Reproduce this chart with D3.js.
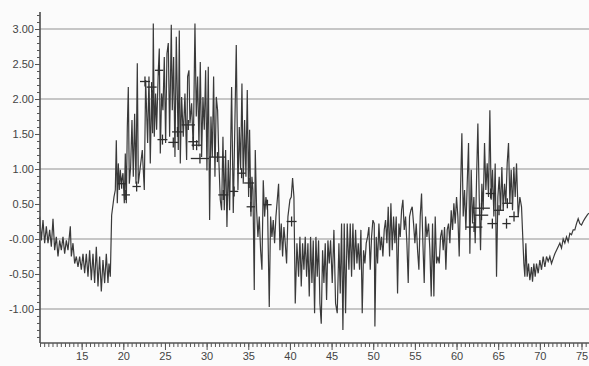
<!DOCTYPE html>
<html>
<head>
<meta charset="utf-8">
<script src="https://cdn.jsdelivr.net/npm/d3@7"></script>
<style>
  html, body { margin: 0; padding: 0; background: #fbfbfb; }
  svg { display: block; }
  text { font-family: "Liberation Sans", Arial, sans-serif; }
</style>
</head>
<body>
<svg id="chart" width="589" height="366"></svg>
<script>
// ---- data (t, value) ----
const segBaseline = [
  [9.96,0.32],[10.16,-0.02],[10.36,0.27],[10.56,-0.06],[10.76,0.18],[10.96,-0.06],[11.16,0.13],[11.36,-0.11],
  [11.56,0.29],[11.76,-0.16],[11.96,0.03],[12.16,-0.25],[12.36,-0.02],[12.56,-0.16],[12.76,0.03],[12.96,-0.21],
  [13.16,-0.02],[13.36,-0.16],[13.64,0.18],[13.76,-0.25],[13.96,-0.06],[14.16,-0.35],[14.36,-0.25],[14.56,-0.40],
  [14.76,-0.25],[14.96,-0.44],[15.16,-0.21],[15.36,-0.49],[15.56,-0.21],[15.76,-0.54],[15.96,-0.16],[16.16,-0.59],
  [16.36,-0.21],[16.56,-0.63],[16.76,-0.11],[16.96,-0.68],[17.16,-0.25],[17.36,-0.75],[17.56,-0.30],[17.76,-0.63],
  [17.96,-0.21],[18.16,-0.63],[18.28,-0.35],[18.44,-0.54]
];
const segRise = [
  [18.6,0.34],[18.88,0.60],[19.04,0.70],[19.16,1.41],[19.28,0.51],[19.4,1.08],[19.52,0.70],[19.64,0.99],
  [19.76,0.79],[19.96,0.94],[20.12,0.51],[20.24,1.22],[20.36,0.51],[20.48,1.60],[20.6,2.17],[20.72,0.79],
  [20.88,1.03],[21.04,1.70],[21.2,0.89],[21.36,1.79],[21.52,0.79],[21.68,2.51]
];
const segPeak = [
  [21.8,0.79],[22.28,1.27],[22.52,0.70],[22.68,2.27],[22.92,1.37],[23.08,2.32],[23.24,1.08],[23.4,2.13],
  [23.52,1.51],[23.6,3.08],[23.72,1.46],[23.88,2.08],[24.0,1.56],[24.2,2.41],[24.32,2.72],[24.44,1.22],
  [24.6,2.08],[24.76,1.84],[24.92,2.60],[25.08,1.37],[25.24,2.65],[25.4,2.80],[25.56,1.46],[25.76,3.06],
  [25.88,1.84],[26.04,2.60],[26.2,1.17],[26.36,2.89],[26.6,1.27],[26.72,2.98],[26.84,1.08],[27.0,2.03],
  [27.2,1.46],[27.4,2.08],[27.6,1.13],[27.72,2.32],[27.88,2.41],[28.0,1.65],[28.2,1.94],[28.4,1.27],
  [28.6,3.08],[28.76,1.75],[28.92,2.32],[29.08,1.32],[29.24,2.53],[29.4,1.17],[29.56,2.03],[29.72,1.56],
  [29.88,2.41],[30.04,0.98],[30.2,2.46],[30.36,0.27],[30.52,1.75],[30.68,1.17],[30.84,2.32],[31.0,0.89],
  [31.16,2.03],[31.32,1.84],[31.48,1.08],[31.64,0.56],[31.8,0.41],[31.96,1.46],[32.12,0.41],[32.28,1.27],
  [32.44,0.17],[32.6,1.13],[32.76,0.41],[33.0,2.17],[33.2,0.37]
];
const segDecline = [
  [33.56,2.77],[33.76,0.70],[33.92,1.60],[34.08,0.99],[34.24,2.22],[34.4,0.79],[34.56,1.70],[34.72,0.89],
  [34.88,2.13],[35.04,0.60],[35.16,1.56],[35.32,0.32],[35.44,0.89],[35.56,0.70],[35.72,-0.73],[35.84,1.27],
  [36.0,0.41],[36.16,0.03],[36.32,0.32],[36.48,-0.16],[36.64,-0.44],[36.8,0.84],[36.96,0.32],[37.12,0.60],
  [37.32,0.41],[37.52,-0.97],[37.68,0.32],[37.84,0.03],[38.0,0.27],[38.16,-0.06],[38.32,0.32],[38.64,0.79],
  [38.8,-0.16],[38.96,0.22],[39.12,-0.25],[39.28,0.17],[39.44,-0.06],[39.6,-0.35],[39.76,0.32],[40.0,0.56],
  [40.16,0.60],[40.32,0.87],[40.48,0.60],[40.64,-0.92]
];
const segTrough = [
  [40.84,-0.06],[41.04,-0.54],[41.2,0.03],[41.36,-0.68],[41.52,-0.06],[41.68,-0.44],[41.84,0.03],[42.0,-0.54],
  [42.16,-0.06],[42.32,-0.82],[42.48,0.03],[42.64,-0.63],[42.8,-0.02],[42.96,-1.06],[43.12,0.03],[43.28,-0.54],
  [43.44,-0.02],[43.6,-0.92],[43.76,-1.21],[43.92,-0.16],[44.08,-0.63],[44.24,-0.06],[44.4,-0.87],[44.56,-0.02],
  [44.72,-0.35],[44.88,-0.02],[45.08,-0.63],[45.28,0.13],[45.48,-0.92],[45.68,-1.06],[45.88,-0.06],[46.04,-0.78],
  [46.2,0.22],[46.36,-1.30],[46.52,0.22],[46.68,-1.06],[46.88,0.22],[47.08,-0.44],[47.24,0.22],[47.4,-0.54],
  [47.56,0.22],[47.72,-0.44],[47.88,0.13],[48.04,-0.35],[48.2,-0.06],[48.36,-0.44],[48.52,0.13],[48.68,-1.06],
  [48.84,-0.16],[49.0,-0.35],[49.16,-0.06],[49.32,0.03],[49.48,0.17],[49.64,-0.44],[49.8,0.03],[49.96,0.27],
  [50.12,0.22],[50.2,-1.25],[50.36,0.03],[50.52,-0.35],[50.68,0.22],[50.84,-0.16],[51.0,0.03],[51.16,-0.25],
  [51.32,0.13],[51.48,0.27],[51.64,-0.06],[51.8,0.46],[51.96,-0.25],[52.12,0.51],[52.28,-0.16],[52.44,0.32],
  [52.6,-0.06],[52.76,0.32],[52.92,-0.78],[53.08,0.22],[53.24,0.03],[53.4,0.41],[53.56,0.56],[53.72,0.13],
  [53.88,0.32],[54.04,-0.06],[54.2,-0.63],[54.36,0.32],[54.52,0.41],[54.68,0.46],[54.84,0.22],[55.0,-0.06],
  [55.16,0.22],[55.32,-0.16],[55.48,-0.44],[55.64,0.32],[55.8,0.65],[55.96,-0.06],[56.12,-0.63],[56.28,0.32],
  [56.44,0.03],[56.64,0.22],[56.8,-0.16],[56.96,-0.82],[57.12,0.22],[57.28,-0.82],[57.44,0.32],[57.6,-0.35],
  [57.76,-0.25],[57.92,-0.35],[58.08,0.03],[58.24,0.13],[58.4,-0.16],[58.56,0.17],[58.72,-0.44],[58.88,0.13],
  [59.04,0.22],[59.2,-0.06],[59.36,0.41],[59.52,0.13],[59.68,0.51],[59.84,0.22],[60.0,0.60],[60.16,0.32]
];
const segSecond = [
  [60.32,-0.25],[60.48,0.70],[60.64,1.51],[60.8,0.32],[60.96,0.70],[61.12,0.13],[61.28,0.79],[61.44,1.37],
  [61.6,-0.21],[61.76,0.99],[61.92,0.22],[62.08,0.60],[62.24,-0.06],[62.4,0.84],[62.56,1.65],[62.72,0.60],
  [62.88,-0.16],[63.04,0.79],[63.2,0.41],[63.36,1.37],[63.52,0.70],[63.68,1.08],[63.84,0.60],[64.0,1.84],
  [64.16,0.56],[64.32,0.99],[64.48,0.32],[64.64,1.08],[64.8,-0.54],[64.96,0.60],[65.12,0.89],[65.28,0.41],
  [65.44,1.03],[65.6,0.41],[65.76,0.79],[65.92,0.51],[66.08,1.08],[66.24,1.37],[66.4,0.51],[66.56,0.99],
  [66.72,0.41],[66.88,1.03],[67.04,0.60],[67.2,1.08],[67.4,0.32],[67.6,0.60],[67.8,0.46]
];
const segTail = [
  [68.08,-0.35],[68.2,-0.54],[68.32,-0.06],[68.48,-0.54],[68.64,-0.35],[68.8,-0.59],[69.0,-0.40],[69.12,-0.61],
  [69.28,-0.35],[69.44,-0.54],[69.6,-0.35],[69.8,-0.49],[70.0,-0.30],[70.2,-0.44],[70.4,-0.25],[70.6,-0.40],
  [70.8,-0.25],[71.0,-0.32],[71.2,-0.25],[71.4,-0.35],[71.6,-0.28],[71.8,-0.21],[72.0,-0.16],[72.2,-0.11],
  [72.4,-0.06],[72.6,-0.13],[72.8,0.0],[73.0,-0.06],[73.2,0.03],[73.4,-0.04],[73.6,0.08],[73.8,0.06],
  [74.0,0.13],[74.2,0.13],[74.4,0.22],[74.6,0.29],[74.8,0.22],[75.0,0.20],[75.2,0.25],[75.4,0.29],
  [75.68,0.34],[75.88,0.37]
];
// error crosses: [t centre, value, half width in t]
const crosses = [
  [19.8,0.79,0.5],[20.3,0.63,0.5],[21.6,0.75,0.5],[22.6,2.25,0.6],[23.4,2.17,0.6],[24.3,2.41,0.5],
  [24.7,1.42,0.6],[26.0,1.38,0.6],[26.5,1.53,0.65],[27.8,1.63,0.8],[28.4,1.39,0.6],[28.8,1.34,0.6],
  [29.2,1.15,1.1],[31.3,1.17,1.0],[32.0,0.63,0.6],[33.3,0.68,0.5],[34.2,0.94,0.5],[35.1,0.80,0.6],
  [35.3,0.46,0.5],[37.3,0.49,0.5],[40.2,0.25,0.6],
  [62.1,0.17,1.0],[63.0,0.44,1.0],[63.0,0.34,0.8],[64.1,0.65,0.6],[64.3,0.22,0.6],[65.1,0.41,0.6],
  [66.1,0.51,0.6],[66.0,0.22,0.5],[66.9,0.32,0.6]
];
const xTickValues = [15,20,25,30,35,40,45,50,55,60,65,70,75];
const yTickValues = [3.0,2.5,2.0,1.5,1.0,0.5,0.0,-0.5,-1.0];
const yTickLabels = ["3.00","2.50","2.00","1.50","1.00","0.50","-0.00","-0.50","-1.00"];
const gridValues = [3,2,1,0,-1];

// ---- layout ----
const svg = d3.select("#chart");
const mLeft = 40, mRight = 589, mTop = 12, mBottom = 343;
const x = d3.scaleLinear().domain([10, 75.9]).range([mLeft, mRight]);
const y = d3.scaleLinear().domain([-1.486, 3.243]).range([mBottom, mTop]);

// gridlines
svg.append("g").selectAll("line").data(gridValues).join("line")
  .attr("x1", mLeft).attr("x2", mRight)
  .attr("y1", d => y(d)).attr("y2", d => y(d))
  .attr("stroke", "#b4b4b4").attr("stroke-width", 1.6);

// series line
const series = [].concat(segBaseline, segRise, segPeak, segDecline, segTrough, segSecond, segTail);
const line = d3.line().x(d => x(d[0])).y(d => y(d[1]));
svg.append("path").datum(series)
  .attr("d", line).attr("fill", "none")
  .attr("stroke", "#3a3a3a").attr("stroke-width", 1.2)
  .attr("stroke-linejoin", "miter");

// crosses
const cg = svg.append("g").attr("stroke", "#2e2e2e").attr("stroke-width", 1.3);
cg.selectAll("line.h").data(crosses).join("line").attr("class", "h")
  .attr("x1", d => x(d[0] - d[2])).attr("x2", d => x(d[0] + d[2]))
  .attr("y1", d => y(d[1])).attr("y2", d => y(d[1]));
cg.selectAll("line.v").data(crosses).join("line").attr("class", "v")
  .attr("x1", d => x(d[0])).attr("x2", d => x(d[0]))
  .attr("y1", d => y(d[1]) - 5).attr("y2", d => y(d[1]) + 5);

// y axis
const yMinor = d3.range(-14, 33).map(i => i / 10);
const yMinorAxis = svg.append("g").attr("transform", `translate(${mLeft},0)`)
  .call(d3.axisLeft(y).tickValues(yMinor).tickSize(3).tickFormat(""));
const yAxis = svg.append("g").attr("transform", `translate(${mLeft},0)`)
  .call(d3.axisLeft(y).tickValues(yTickValues).tickSize(5).tickPadding(1)
    .tickFormat((d, i) => yTickLabels[i]));

// x axis
const xMinor = d3.range(20, 152).map(i => i / 2);
const xMinorAxis = svg.append("g").attr("transform", `translate(0,${mBottom})`)
  .call(d3.axisBottom(x).tickValues(xMinor).tickSize(4).tickFormat(""));
const xAxis = svg.append("g").attr("transform", `translate(0,${mBottom})`)
  .call(d3.axisBottom(x).tickValues(xTickValues).tickSize(7).tickPadding(2));

[yMinorAxis, yAxis, xMinorAxis, xAxis].forEach(g => {
  g.select(".domain").attr("stroke", "#555").attr("stroke-width", 1.2);
  g.selectAll(".tick line").attr("stroke", "#555");
  g.selectAll("text").attr("fill", "#444").style("font-size", "11px")
    .style("font-family", "'Liberation Sans', Arial, sans-serif");
});
yAxis.select(".domain").attr("d", `M0,${mTop}V${mBottom}`);
yMinorAxis.select(".domain").attr("d", `M0,${mTop}V${mBottom}`);
xAxis.select(".domain").attr("d", `M${mLeft},0H${mRight}`);
xMinorAxis.select(".domain").attr("d", `M${mLeft},0H${mRight}`);
</script>
</body>
</html>
